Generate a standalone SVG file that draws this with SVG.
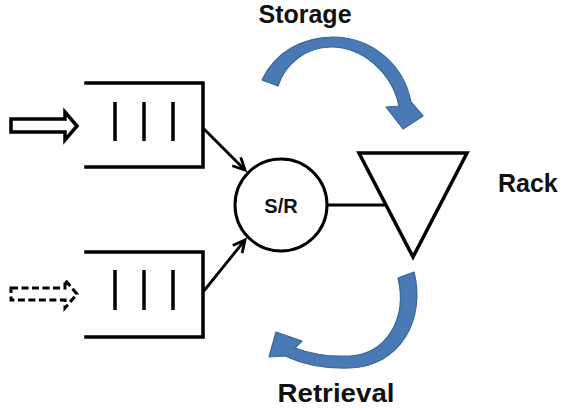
<svg xmlns="http://www.w3.org/2000/svg" width="561" height="412" viewBox="0 0 561 412">
  <style>
    .ln { fill: none; stroke: #000; stroke-width: 3.5; stroke-linecap: square; }
    .bar { fill: none; stroke: #000; stroke-width: 3.5; }
    .conn { fill: none; stroke: #000; stroke-width: 2.8; }
    .lbl { font-family: "Liberation Sans", Arial, sans-serif; font-weight: bold; fill: #111; }
    .flow { fill: #4a7ab6; stroke: #3a6597; stroke-width: 1.2; stroke-linejoin: round; }
  </style>
  <defs>
    <marker id="vhead" markerUnits="userSpaceOnUse" markerWidth="16" markerHeight="16" refX="13" refY="7" orient="auto">
      <path d="M1,1 L13,7 L1,13" fill="none" stroke="#000" stroke-width="2.8" stroke-linejoin="miter"/>
    </marker>
  </defs>

  <!-- incoming flows -->
  <g id="input-solid">
    <path d="M11,119 H65 V112 L77,126 L65,140 V132 H11 Z" fill="#fff" stroke="#000" stroke-width="3.5" stroke-linejoin="miter"/>
  </g>
  <g id="input-dashed">
    <path d="M11,288 H65 V280 L77,294 L65,308 V300 H11 Z" fill="#fff" stroke="#000" stroke-width="3" stroke-dasharray="7 3.5"/>
  </g>

  <!-- queues -->
  <g id="queue-top">
    <path class="ln" d="M86,83 H203 V167 H86"/>
    <line class="bar" x1="115" y1="102" x2="115" y2="141"/>
    <line class="bar" x1="144" y1="102" x2="144" y2="141"/>
    <line class="bar" x1="173" y1="102" x2="173" y2="141"/>
  </g>
  <g id="queue-bottom">
    <path class="ln" d="M86,252 H203 V337 H86"/>
    <line class="bar" x1="115" y1="270" x2="115" y2="310"/>
    <line class="bar" x1="144" y1="270" x2="144" y2="310"/>
    <line class="bar" x1="173" y1="270" x2="173" y2="310"/>
  </g>

  <!-- storage/retrieval machine -->
  <g id="sr">
    <circle cx="281" cy="205" r="46" fill="#fff" stroke="#000" stroke-width="3"/>
    <text class="lbl" x="281" y="213" font-size="20" text-anchor="middle">S/R</text>
  </g>

  <!-- rack -->
  <g id="rack">
    <polygon points="359,153 467,153 413,257" fill="#fff" stroke="#000" stroke-width="3.5" stroke-linejoin="miter"/>
    <text class="lbl" x="498" y="192" font-size="25">Rack</text>
  </g>

  <!-- connectors -->
  <g id="connectors">
    <line class="conn" x1="203" y1="128" x2="245" y2="170" marker-end="url(#vhead)"/>
    <line class="conn" x1="203" y1="292" x2="245" y2="240" marker-end="url(#vhead)"/>
    <line class="conn" x1="327" y1="205" x2="386" y2="205"/>
  </g>

  <!-- storage move -->
  <g id="storage">
    <path class="flow" d="M262,80 C275,52 303,37 333,37 C372,37 404,65 411,102 L423,116 L403,129 L386,107 L399,106 C392,72 362,47 331,47 C306,47 285,64 278,86 Z"/>
    <text class="lbl" x="305" y="23" font-size="25" text-anchor="middle">Storage</text>
  </g>

  <!-- retrieval move -->
  <g id="retrieval">
    <path class="flow" d="M414,272 C426,320 400,366 350,368 C322,369 300,363 285,356 L269,357 L276,332 L302,341 L295,348 C311,354 330,357 350,356 C385,354 408,320 398,278 Z"/>
    <text class="lbl" x="336" y="402" font-size="25" text-anchor="middle" textLength="117" lengthAdjust="spacingAndGlyphs">Retrieval</text>
  </g>
</svg>
